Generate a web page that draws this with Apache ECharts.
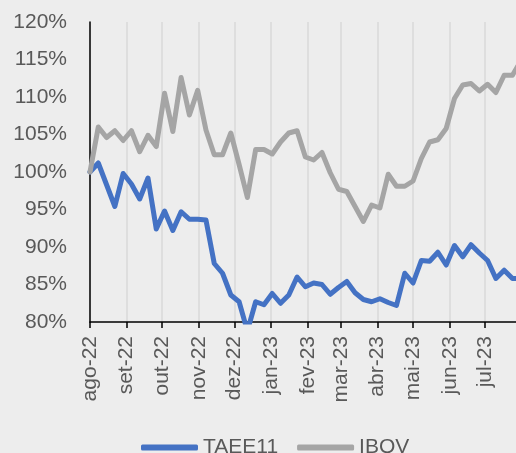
<!DOCTYPE html>
<html>
<head>
<meta charset="utf-8">
<script src="https://cdn.jsdelivr.net/npm/echarts@6/dist/echarts.min.js"></script>
<style>
  html, body { margin: 0; padding: 0; background: #ededed; }
  #chart { width: 516px; height: 453px; }
</style>
</head>
<body>
<div id="chart"></div>
<script>
// weekly closes, rebased to 100% on the first week (ago-22)
var taee11 = [100.0, 101.2, 98.3, 95.4, 99.8, 98.4, 96.4, 99.2, 92.4, 94.8,
              92.2, 94.7, 93.7, 93.7, 93.6, 87.8, 86.5, 83.6, 82.7, 78.8,
              82.7, 82.3, 83.8, 82.5, 83.6, 86.0, 84.7, 85.2, 85.0, 83.7,
              84.6, 85.4, 83.9, 83.0, 82.7, 83.1, 82.6, 82.2, 86.5, 85.2,
              88.2, 88.1, 89.3, 87.6, 90.2, 88.7, 90.3, 89.2, 88.2, 85.8,
              86.9, 85.8, 85.8];
var ibov = [100.0, 106.0, 104.6, 105.5, 104.2, 105.5, 102.7, 104.9, 103.4, 110.5,
            105.4, 112.6, 107.6, 110.9, 105.6, 102.3, 102.3, 105.2, 101.0, 96.6,
            103.0, 103.0, 102.4, 104.0, 105.2, 105.5, 102.0, 101.6, 102.6, 99.9,
            97.7, 97.4, 95.4, 93.4, 95.6, 95.2, 99.7, 98.1, 98.1, 98.8,
            101.8, 104.0, 104.3, 105.8, 109.8, 111.6, 111.8, 110.8, 111.7, 110.6,
            112.9, 112.9, 114.8];

var monthLabels = ['ago-22', 'set-22', 'out-22', 'nov-22', 'dez-22', 'jan-23',
                   'fev-23', 'mar-23', 'abr-23', 'mai-23', 'jun-23', 'jul-23'];

// x axis in days since 1 ago 2022
var start = Date.UTC(2022, 7, 1);
var DAY = 86400000;
var monthDays = monthLabels.map(function (m, i) {
  return Math.round((Date.UTC(2022, 7 + i, 1) - start) / DAY);
});
var labelOf = {};
monthDays.forEach(function (d, i) { labelOf[d] = monthLabels[i]; });

function weekly(vals) {
  return vals.map(function (v, i) { return [i * 7, v]; });
}

var font = 'Liberation Sans';
var myChart = echarts.init(document.getElementById('chart'));

var option = {
  backgroundColor: '#ededed',
  animation: false,
  grid: { left: 90, right: 0, top: 22, bottom: 131 },
  legend: {
    bottom: -10,
    left: 136,
    itemWidth: 57,
    itemHeight: 6,
    itemGap: 19,
    icon: 'roundRect',
    textStyle: { color: '#595959', fontSize: 21, fontFamily: font },
    data: ['TAEE11', 'IBOV']
  },
  xAxis: {
    type: 'value',
    min: 0,
    max: 360,
    axisLine: { show: true, lineStyle: { color: '#000', width: 1.5 } },
    axisTick: { show: true, length: 6, customValues: monthDays, lineStyle: { color: '#000', width: 1.5 } },
    axisLabel: {
      customValues: monthDays,
      rotate: 90,
      margin: 14,
      color: '#595959',
      fontSize: 21,
      fontFamily: font,
      formatter: function (v) { return labelOf[v] || ''; }
    },
    splitLine: { show: true, lineStyle: { color: '#d9d9d9', width: 1.5 } }
  },
  yAxis: {
    type: 'value',
    min: 80,
    max: 120,
    interval: 5,
    axisLine: { show: true, lineStyle: { color: '#000', width: 1.5 } },
    axisTick: { show: false },
    splitLine: { show: false },
    axisLabel: {
      margin: 23,
      color: '#595959',
      fontSize: 21,
      fontFamily: font,
      formatter: '{value}%'
    }
  },
  series: [{
    name: 'TAEE11',
    type: 'line',
    showSymbol: false,
    color: '#4472c4',
    lineStyle: { width: 5, cap: 'round', join: 'round' },
    data: weekly(taee11)
  }, {
    name: 'IBOV',
    type: 'line',
    showSymbol: false,
    color: '#a5a5a5',
    lineStyle: { width: 5, cap: 'round', join: 'round' },
    data: weekly(ibov)
  }]
};

myChart.setOption(option);
</script>
</body>
</html>
